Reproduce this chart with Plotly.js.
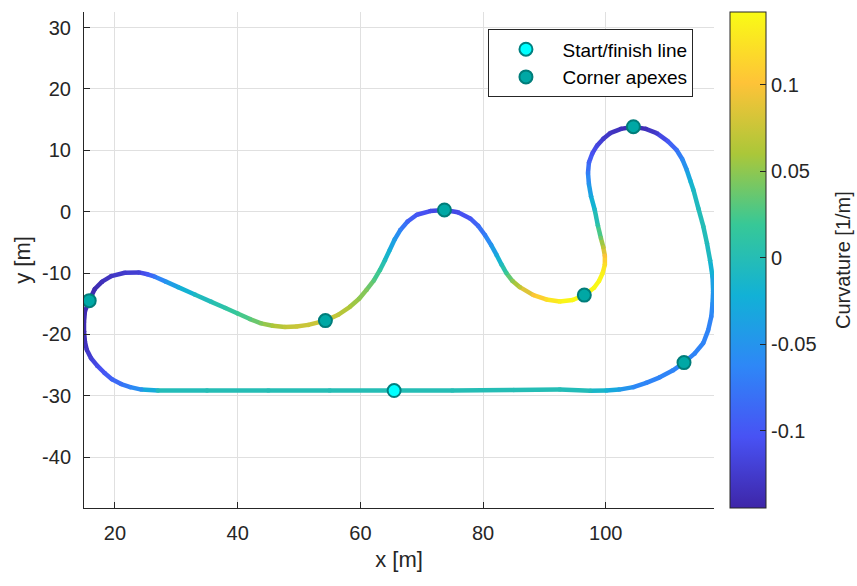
<!DOCTYPE html>
<html>
<head>
<meta charset="utf-8">
<script src="https://cdn.plot.ly/plotly-3.0.1.min.js"></script>
<style>html,body{margin:0;padding:0;background:#fff;}#chart{width:857px;height:586px;}</style>
</head>
<body>
<div id="chart"></div>
<script>
// Track centreline (m), read clockwise from the start/finish line (117 points)
const trackX = [
  65.5, 55, 45, 35, 27, 24.3, 22.5, 21.0, 19.5, 18.3,
  17.1, 16.1, 15.4, 15.1, 14.95, 14.95, 15.1, 15.8, 16.7, 17.9,
  19.4, 21.6, 23.9, 25.3, 26.5, 28.3, 30.3, 33.0, 35.7, 38.0,
  40.0, 42.0, 43.8, 45.7, 47.7, 49.6, 51.5, 54.3, 56.4, 58.3,
  59.8, 61.0, 62.2, 63.2, 64.0, 64.8, 65.6, 66.5, 67.7, 69.2,
  71.4, 73.7, 75.9, 77.9, 79.2, 80.3, 81.3, 82.2, 83.0, 83.8,
  84.8, 86.0, 88.2, 90.3, 92.5, 94.6, 96.5, 98.1, 98.9, 99.5,
  99.85, 99.85, 99.6, 99.2, 98.7, 98.2, 97.6, 97.25, 97.1, 97.25,
  97.8, 98.6, 99.6, 100.7, 102.5, 104.5, 106.5, 108.3, 110.1, 111.55,
  112.5, 113.2, 113.8, 114.3, 115.1, 115.9, 116.5, 117.0, 117.4, 117.5,
  117.4, 117.2, 116.7, 115.9, 114.5, 112.75, 110.9, 108.8, 106.6, 104.5,
  102.2, 100.1, 97.5, 92.5, 85, 75, 65.5];
const trackY = [
  -29.15, -29.15, -29.15, -29.15, -29.15, -29.0, -28.6, -28.1, -27.3, -26.3,
  -25.1, -23.9, -22.5, -21.2, -19.5, -18.0, -16.2, -14.5, -12.6, -11.4,
  -10.5, -9.95, -9.9, -10.2, -10.6, -11.4, -12.3, -13.5, -14.7, -15.7,
  -16.6, -17.5, -18.2, -18.6, -18.8, -18.7, -18.45, -17.75, -16.8, -15.5,
  -14.2, -12.75, -11.2, -9.5, -7.9, -6.2, -4.5, -3.0, -1.6, -0.5,
  0.1, 0.28, -0.1, -1.1, -2.3, -3.8, -5.4, -7.05, -8.6, -10.0,
  -11.3, -12.3, -13.6, -14.3, -14.65, -14.4, -13.6, -12.4, -11.3, -10.0,
  -8.6, -7.2, -5.8, -4.3, -2.2, 0.3, 2.5, 4.5, 6.3, 8.0,
  9.5, 10.8, 11.9, 12.8, 13.5, 13.85, 13.5, 12.8, 11.5, 10.05,
  8.5, 6.8, 5.0, 3.5, 0.5, -2.4, -5.2, -7.9, -10.6, -13.0,
  -15.0, -17.1, -19.3, -21.4, -23.1, -24.6, -25.9, -27.0, -27.9, -28.6,
  -29.0, -29.15, -29.2, -29.0, -29.05, -29.15, -29.15];
// Curvature (1/m) at each centreline point
const curvature = [
  0, 0, 0, 0, -0.005, -0.05, -0.065, -0.08, -0.09, -0.10,
  -0.11, -0.12, -0.13, -0.135, -0.14, -0.14, -0.14, -0.14, -0.14, -0.135,
  -0.13, -0.125, -0.12, -0.10, -0.075, -0.05, -0.03, -0.01, 0, 0.01,
  0.02, 0.03, 0.045, 0.06, 0.07, 0.075, 0.075, 0.075, 0.07, 0.06,
  0.05, 0.045, 0.03, 0.015, -0.005, -0.025, -0.045, -0.065, -0.09, -0.10,
  -0.11, -0.115, -0.11, -0.10, -0.085, -0.07, -0.05, -0.03, -0.005, 0.02,
  0.05, 0.07, 0.10, 0.12, 0.135, 0.14, 0.14, 0.14, 0.14, 0.135,
  0.12, 0.10, 0.07, 0.04, 0.01, -0.01, -0.03, -0.05, -0.07, -0.09,
  -0.105, -0.115, -0.125, -0.13, -0.135, -0.14, -0.135, -0.125, -0.10, -0.08,
  -0.06, -0.045, -0.02, -0.01, -0.005, 0, -0.005, -0.01, -0.03, -0.045,
  -0.055, -0.065, -0.065, -0.065, -0.065, -0.065, -0.065, -0.065, -0.065, -0.06,
  -0.04, -0.02, -0.005, 0, 0, 0, 0];
// Markers
const startX = [65.5], startY = [-29.15];
const apexX = [15.8, 54.3, 73.7, 96.5, 104.5, 112.75];
const apexY = [-14.5, -17.75, 0.28, -13.6, 13.85, -24.6];
// Axis ticks
const xTicks = [20, 40, 60, 80, 100];
const xTickText = ['20', '40', '60', '80', '100'];
const yTicks = [-40, -30, -20, -10, 0, 10, 20, 30];
const yTickText = ['-40', '-30', '-20', '-10', '0', '10', '20', '30'];
const cTicks = [-0.1, -0.05, 0, 0.05, 0.1];
const cTickText = ['-0.1', '-0.05', '0', '0.05', '0.1'];

const cmin = -0.1445, cmax = 0.142;
const parula = [
  [0.0, [0.2422,0.1504,0.6603]],
  [1/7, [0.2810,0.3228,0.9579]],
  [2/7, [0.1786,0.5289,0.9682]],
  [3/7, [0.0689,0.6948,0.8394]],
  [4/7, [0.2161,0.7843,0.5923]],
  [5/7, [0.6720,0.7793,0.2227]],
  [6/7, [0.9970,0.7659,0.2199]],
  [1.0, [0.9769,0.9839,0.0805]]
];
const toRgb = c => 'rgb(' + c.map(v => Math.round(v*255)).join(',') + ')';
const colorscale = parula.map(s => [s[0], toRgb(s[1])]);
function colorAt(k) {
  let t = (k - cmin) / (cmax - cmin);
  t = Math.max(0, Math.min(1, t));
  for (let i = 0; i < parula.length - 1; i++) {
    const a = parula[i], b = parula[i+1];
    if (t <= b[0]) {
      const f = (t - a[0]) / (b[0] - a[0]);
      return toRgb(a[1].map((v, j) => v + f * (b[1][j] - v)));
    }
  }
  return toRgb(parula[parula.length-1][1]);
}

const font = 'Liberation Sans, Arial, Helvetica, sans-serif';
const ink = '#262626';
const traces = [];
const n = Math.min(trackX.length, trackY.length, curvature.length);
for (let i = 0; i < n - 1; i++) {
  traces.push({
    x: [trackX[i], trackX[i+1]], y: [trackY[i], trackY[i+1]],
    type: 'scatter', mode: 'lines',
    line: {color: colorAt((curvature[i] + curvature[i+1]) / 2), width: 4.5},
    showlegend: false, hoverinfo: 'skip'
  });
}
traces.push({
  x: trackX.slice(0, n), y: trackY.slice(0, n), type: 'scatter', mode: 'markers', showlegend: false,
  marker: {
    size: 4.5, color: curvature.slice(0, n), colorscale: colorscale, cmin: cmin, cmax: cmax,
    showscale: true,
    colorbar: {
      x: 1.0254, xanchor: 'left', xpad: 0, ypad: 0,
      y: 0.5, yanchor: 'middle', len: 1, lenmode: 'fraction',
      thickness: 36, thicknessmode: 'pixels',
      outlinewidth: 1, outlinecolor: ink,
      ticks: 'inside', ticklen: 6, tickcolor: ink,
      tickvals: cTicks, ticktext: cTickText,
      tickfont: {family: font, size: 20, color: ink}
    }
  }
});
traces.push({
  x: startX, y: startY, type: 'scatter', mode: 'markers', name: 'Start/finish line',
  marker: {size: 13, color: '#00ffff', line: {color: '#008080', width: 2}}
});
traces.push({
  x: apexX, y: apexY, type: 'scatter', mode: 'markers', name: 'Corner apexes',
  marker: {size: 13, color: '#00a8a5', line: {color: '#007d7a', width: 2}}
});

const axisCommon = {
  showgrid: true, gridcolor: '#e0e0e0', gridwidth: 1, zeroline: false,
  showline: true, linecolor: ink, linewidth: 1, mirror: false,
  ticks: 'inside', ticklen: 6, tickcolor: ink, tickwidth: 1,
  tickfont: {family: font, size: 20, color: ink}
};
const layout = {
  width: 857, height: 586,
  margin: {l: 84, r: 143, t: 12, b: 78, pad: 0},
  paper_bgcolor: '#ffffff', plot_bgcolor: '#ffffff',
  font: {family: font, color: ink},
  xaxis: Object.assign({}, axisCommon, {
    range: [14.95, 117.64], tickvals: xTicks, ticktext: xTickText, ticklabelstandoff: 7,
    title: {text: 'x [m]', font: {family: font, size: 22, color: ink}, standoff: 8}
  }),
  yaxis: Object.assign({}, axisCommon, {
    range: [-48.3, 32.55], tickvals: yTicks, ticktext: yTickText, ticklabelstandoff: 8,
    title: {text: 'y [m]', font: {family: font, size: 22, color: ink}, standoff: 5}
  }),
  legend: {
    x: 0.642, y: 0.965, xanchor: 'left', yanchor: 'top',
    bgcolor: '#ffffff', bordercolor: ink, borderwidth: 1,
    font: {family: font, size: 19, color: '#000000'}, itemwidth: 63
  },
  annotations: [{
    text: 'Curvature [1/m]', xref: 'paper', yref: 'paper',
    x: 1.2048, y: 0.5, xanchor: 'center', yanchor: 'middle',
    textangle: -90, showarrow: false,
    font: {family: font, size: 20, color: ink}
  }],
  showlegend: true
};
Plotly.newPlot('chart', traces, layout, {staticPlot: true, displayModeBar: false});
</script>
</body>
</html>
